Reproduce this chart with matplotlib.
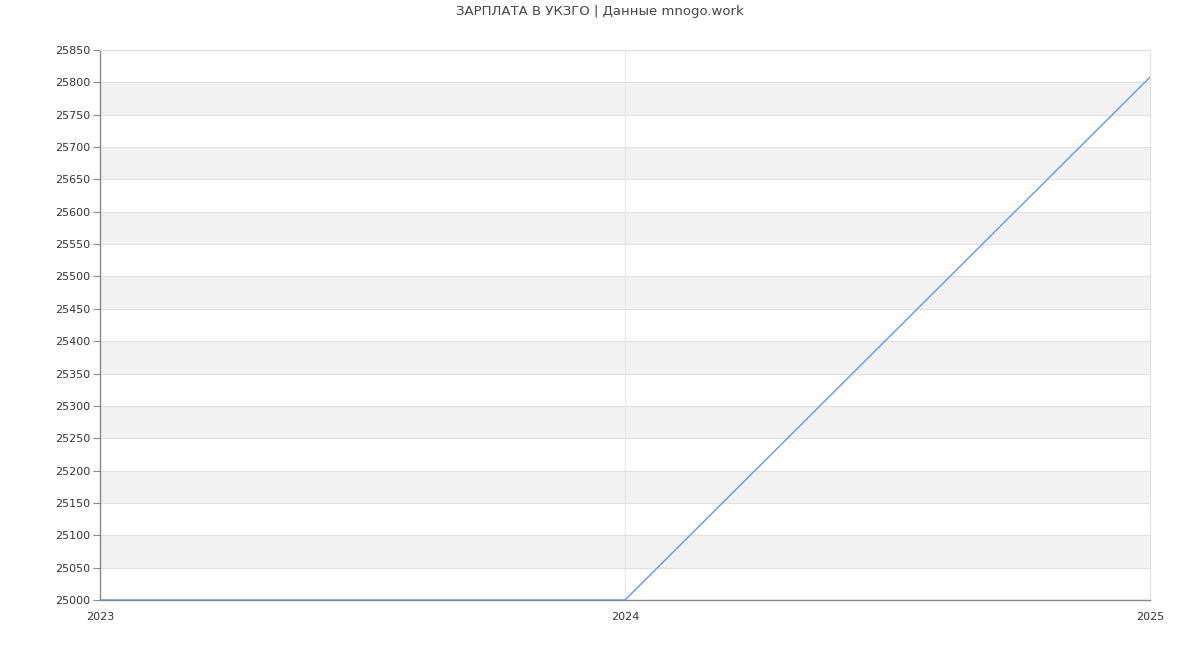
import numpy as np
import matplotlib as mpl
mpl.use('Agg')
import matplotlib.pyplot as plt

years = [2023, 2024, 2025]
salary = [25000, 25000, 25808]
title = "ЗАРПЛАТА В УКЗГО | Данные mnogo.work"
y_min, y_max, y_step = 25000, 25850, 50

fig = plt.figure(figsize=(12, 6.5), dpi=100)
ax = fig.add_axes([100/1200, 50/650, 1050/1200, 550/650])

# alternating gray bands
for lo in np.arange(y_min + y_step, y_max, 2*y_step):
    ax.axhspan(lo, lo + y_step, color='#f2f2f2', zorder=0, lw=0)
# grid lines
for yv in np.arange(y_min, y_max + 1, y_step):
    ax.axhline(yv, color='#e0e0e0', lw=0.8, zorder=1)
ax.axvline(2024, color='#e6e6e6', lw=0.8, zorder=1)

ax.plot(years, salary, color='#6495ed', lw=1.0, zorder=3)

ax.set_xlim(2023, 2025)
ax.set_ylim(y_min, y_max)
ax.set_yticks(np.arange(y_min, y_max + 1, y_step))
ax.set_xticks(years)
ax.tick_params(axis='y', length=5, width=0.8, color='#888888', labelsize=8, labelcolor='#333333', pad=2)
ax.tick_params(axis='x', length=0, labelsize=8, labelcolor='#333333', pad=9)
for lbl in ax.get_xticklabels():
    lbl.set_x(lbl.get_position()[0])
    lbl.set_horizontalalignment('center')

for side in ['left', 'bottom']:
    ax.spines[side].set_color('#888888')
    ax.spines[side].set_linewidth(1.0)
for side in ['right', 'top']:
    ax.spines[side].set_color('#e0e0e0')
    ax.spines[side].set_linewidth(0.8)

fig.text(0.5, 1 - 12/650, title, ha='center', va='center', fontsize=9.5, color='#444444')

fig.savefig('out.png', dpi=100)
